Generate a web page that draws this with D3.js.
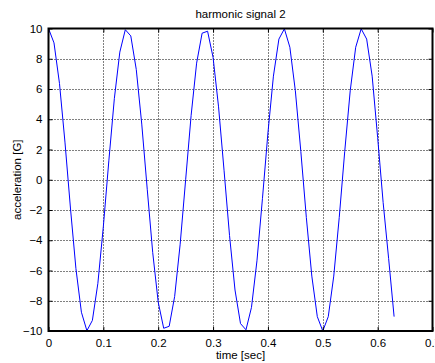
<!DOCTYPE html>
<html>
<head>
<meta charset="utf-8">
<script src="https://cdn.jsdelivr.net/npm/d3@7"></script>
<style>
  html, body { margin: 0; padding: 0; background: #fff; }
  svg { display: block; }
  text { font-family: "Liberation Sans", Arial, sans-serif; fill: #000; }
</style>
</head>
<body>
<script>
// Sample times [sec]
const time = [
  0.00, 0.01, 0.02, 0.03, 0.04, 0.05, 0.06, 0.07, 0.08, 0.09,
  0.10, 0.11, 0.12, 0.13, 0.14, 0.15, 0.16, 0.17, 0.18, 0.19,
  0.20, 0.21, 0.22, 0.23, 0.24, 0.25, 0.26, 0.27, 0.28, 0.29,
  0.30, 0.31, 0.32, 0.33, 0.34, 0.35, 0.36, 0.37, 0.38, 0.39,
  0.40, 0.41, 0.42, 0.43, 0.44, 0.45, 0.46, 0.47, 0.48, 0.49,
  0.50, 0.51, 0.52, 0.53, 0.54, 0.55, 0.56, 0.57, 0.58, 0.59,
  0.60, 0.61, 0.62, 0.63
];

// Acceleration [G]
const acceleration = [
  10.00, 9.05, 6.37, 2.49, -1.87, -5.88, -8.76, -9.98, -9.30, -6.85,
  -3.09, 1.25, 5.36, 8.44, 9.92, 9.51, 7.29, 3.68, -0.63, -4.82,
  -8.09, -9.82, -9.69, -7.71, -4.26, 0.00, 4.26, 7.71, 9.69, 9.82,
  8.09, 4.82, 0.63, -3.68, -7.29, -9.51, -9.92, -8.44, -5.36, -1.25,
  3.09, 6.85, 9.30, 9.98, 8.76, 5.88, 1.87, -2.49, -6.37, -9.05,
  -10.00, -9.05, -6.37, -2.49, 1.87, 5.88, 8.76, 9.98, 9.30, 6.85,
  2.80, -1.50, -5.20, -9.05
];

const xTicks = [0, 0.1, 0.2, 0.3, 0.4, 0.5, 0.6, 0.7];
const xTickLabels = ["0", "0.1", "0.2", "0.3", "0.4", "0.5", "0.6", "0.7"];
const yTicks = [-10, -8, -6, -4, -2, 0, 2, 4, 6, 8, 10];

const W = 435, H = 363;
const plotLeft = 48.5, plotRight = 432.5, plotTop = 28.5, plotBottom = 331;

const svg = d3.select("body").append("svg")
  .attr("width", W).attr("height", H);

const x = d3.scaleLinear().domain([0, 0.7]).range([plotLeft, plotRight]);
const y = d3.scaleLinear().domain([-10, 10]).range([plotBottom, plotTop]);

// Dotted grid
const grid = svg.append("g").attr("stroke", "#000").attr("stroke-width", 1)
  .attr("stroke-dasharray", "1,2");
grid.selectAll("line.gx").data(xTicks.slice(1, -1)).join("line")
  .attr("x1", d => Math.round(x(d)) + 0.5).attr("x2", d => Math.round(x(d)) + 0.5)
  .attr("y1", plotTop).attr("y2", plotBottom);
grid.selectAll("line.gy").data(yTicks.slice(1, -1)).join("line")
  .attr("x1", plotLeft).attr("x2", plotRight)
  .attr("y1", d => Math.round(y(d)) + 0.5).attr("y2", d => Math.round(y(d)) + 0.5);

// Signal
const line = d3.line()
  .x((d, i) => x(time[i]))
  .y(d => y(d));
svg.append("path")
  .datum(acceleration)
  .attr("fill", "none")
  .attr("stroke", "#0000ff")
  .attr("stroke-width", 1)
  .attr("d", line);

// Axes with inward ticks
const xAxis = svg.append("g").attr("transform", `translate(0,${plotBottom})`)
  .call(d3.axisBottom(x).tickValues(xTicks).tickSize(-4).tickPadding(8)
    .tickFormat((d, i) => xTickLabels[i]));
const yAxis = svg.append("g").attr("transform", `translate(${plotLeft},0)`)
  .call(d3.axisLeft(y).tickValues(yTicks).tickSize(-4).tickPadding(6)
    .tickFormat(d3.format("d")));
const xTop = svg.append("g").attr("transform", `translate(0,${plotTop})`)
  .call(d3.axisTop(x).tickValues(xTicks).tickSize(-4).tickFormat(""));
const yRight = svg.append("g").attr("transform", `translate(${plotRight},0)`)
  .call(d3.axisRight(y).tickValues(yTicks).tickSize(-4).tickFormat(""));

[xAxis, yAxis, xTop, yRight].forEach(g => {
  g.select(".domain").remove();
  g.selectAll(".tick line").attr("stroke", "#000");
  g.selectAll("text").attr("font-size", 11.5).attr("fill", "#000")
    .style("font-family", "'Liberation Sans', Arial, sans-serif");
});

// Frame
svg.append("rect")
  .attr("x", plotLeft).attr("y", plotTop)
  .attr("width", plotRight - plotLeft).attr("height", plotBottom - plotTop)
  .attr("fill", "none").attr("stroke", "#000").attr("stroke-width", 2);

// Titles
svg.append("text")
  .attr("x", (plotLeft + plotRight) / 2).attr("y", 18)
  .attr("text-anchor", "middle").attr("font-size", 11.5)
  .text("harmonic signal 2");
svg.append("text")
  .attr("x", (plotLeft + plotRight) / 2).attr("y", 359)
  .attr("text-anchor", "middle").attr("font-size", 11.5)
  .text("time [sec]");
svg.append("text")
  .attr("transform", `translate(21,${(plotTop + plotBottom) / 2}) rotate(-90)`)
  .attr("text-anchor", "middle").attr("font-size", 11.5)
  .text("acceleration [G]");
</script>
</body>
</html>
